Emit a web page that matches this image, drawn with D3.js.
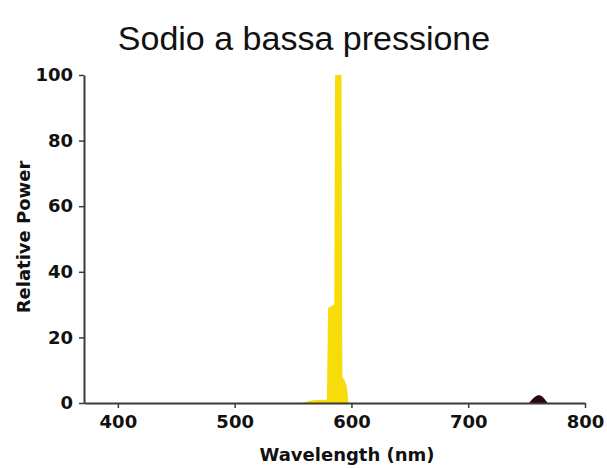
<!DOCTYPE html>
<html>
<head>
<meta charset="utf-8">
<script src="https://cdn.jsdelivr.net/npm/d3@7"></script>
<style>
  body { margin: 0; background: #fff; }
  text { font-family: "DejaVu Sans", Verdana, sans-serif; }
</style>
</head>
<body>
<div id="chart"></div>
<script>
// spectrum of the low pressure sodium lamp
let wavelengths = [558, 565, 575, 579, 580, 585.3, 586, 591.5, 592.2, 594, 596, 597.5];
let powers      = [0,   0.8, 1,   1,   29,  30,    100, 100,   8,     7,   5,   0];

// small dark line near the far red end
let redWavelengths = [752, 756, 760, 764, 768];
let redPowers      = [0, 1.6, 2.6, 2, 0];

let xTicks = [400, 500, 600, 700, 800];
let yTicks = [0, 20, 40, 60, 80, 100];
let title = "Sodio a bassa pressione";
let xText = "Wavelength (nm)";
let yText = "Relative Power";

let width = 607;
let height = 468;

let svg = d3.select("#chart")
  .append("svg")
  .attr("width", width).attr("height", height);

let xScale = d3.scaleLinear()
  .domain([371, 800])
  .range([84, 585]);
let yScale = d3.scaleLinear()
  .domain([0, 100])
  .range([403, 75]);

// main yellow line
let spike = wavelengths.map((w, i) => ({w: w, p: powers[i]}));
let redLine = redWavelengths.map((w, i) => ({w: w, p: redPowers[i]}));

let area = d3.area()
  .x(d => xScale(d.w))
  .y0(yScale(0))
  .y1(d => yScale(d.p));

svg.append("path")
  .datum(spike)
  .attr("d", area)
  .attr("fill", "#f6dd0a");

svg.append("path")
  .datum(redLine)
  .attr("d", area.curve(d3.curveBasis))
  .attr("fill", "#2b0610");

// axes
let xAxis = g => g
  .attr("transform", `translate(0,${yScale(0)})`)
  .call(d3.axisBottom(xScale).tickValues(xTicks).tickSize(5).tickSizeOuter(0).tickPadding(7));

let yAxis = g => g
  .attr("transform", `translate(${xScale.range()[0]},0)`)
  .call(d3.axisLeft(yScale).tickValues(yTicks).tickSize(5).tickSizeOuter(0).tickPadding(6));

svg.append("g").attr("id", "x_axis").call(xAxis);
svg.append("g").attr("id", "y_axis").call(yAxis);

svg.selectAll(".domain").attr("stroke", "#3a3a3a").attr("stroke-width", 2);
svg.selectAll(".tick line").attr("stroke", "#3a3a3a").attr("stroke-width", 1.5);
svg.selectAll(".tick text")
  .attr("fill", "#111")
  .style("font-size", "18px")
  .style("font-weight", "bold")
  .style("font-family", "DejaVu Sans, sans-serif");

// labels
svg.append("text").attr("id", "title")
  .attr("x", 304)
  .attr("y", 50)
  .style("text-anchor", "middle")
  .style("font-family", "Liberation Sans, Arial, sans-serif")
  .style("font-size", "34px")
  .attr("fill", "#111")
  .text(title);

svg.append("text").attr("id", "x_label")
  .attr("x", 347)
  .attr("y", 461)
  .style("text-anchor", "middle")
  .style("font-size", "18px")
  .style("font-weight", "bold")
  .attr("fill", "#111")
  .text(xText);

svg.append("text").attr("id", "y_label")
  .attr("transform", "rotate(-90)")
  .attr("x", -237)
  .attr("y", 30)
  .style("text-anchor", "middle")
  .style("font-size", "18px")
  .style("font-weight", "bold")
  .attr("fill", "#111")
  .text(yText);
</script>
</body>
</html>
